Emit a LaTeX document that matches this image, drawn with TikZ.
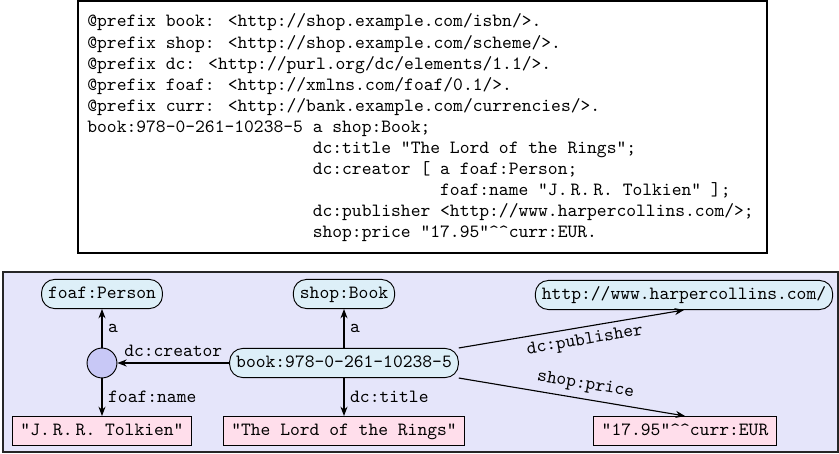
\documentclass[tikz,border=0pt]{standalone}
\usetikzlibrary{arrows.meta}

\definecolor{panelbg}{RGB}{229,229,250}
\definecolor{resfill}{RGB}{221,239,248}
\definecolor{litfill}{RGB}{255,222,235}
\definecolor{blankfill}{RGB}{200,200,246}

\newcommand{\crt}{\textasciicircum}

\tikzset{
  code/.style={anchor=base west, inner sep=0pt, font=\ttfamily},
  res/.style={draw, fill=resfill, rounded corners=7pt, font=\ttfamily,
    text height=7pt, text depth=2pt, inner xsep=3.5pt, inner ysep=3.3pt,
    line width=0.5pt},
  lit/.style={draw, fill=litfill, font=\ttfamily,
    text height=7pt, text depth=2pt, inner xsep=4.2pt, inner ysep=3.3pt,
    line width=0.5pt},
  blank/.style={draw, circle, fill=blankfill, minimum size=16pt,
    inner sep=0pt, line width=0.5pt},
  edge/.style={-{Stealth[length=5pt,width=3.8pt]}, line width=0.6pt},
  lbl/.style={font=\ttfamily, inner sep=3pt},
}

\begin{document}
\begin{tikzpicture}[x=0.5357pt, y=-0.5357pt]
\useasboundingbox (0,0) rectangle (839,454);

% Turtle source listing
\draw[line width=1.2pt] (78,1.2) rectangle (767,253);
\node[code] (t1)  at (87,27)    {@prefix book: <http://shop.example.com/isbn/>.};
\node[code] (t2)  at (87,48.1)  {@prefix shop: <http://shop.example.com/scheme/>.};
\node[code] (t3)  at (87,69.2)  {@prefix dc: <http://purl.org/dc/elements/1.1/>.};
\node[code] (t4)  at (87,90.3)  {@prefix foaf: <http://xmlns.com/foaf/0.1/>.};
\node[code] (t5)  at (87,111.4) {@prefix curr: <http://bank.example.com/currencies/>.};
\node[code] (t6)  at (87,132.5) {book:978-0-261-10238-5 a shop:Book;};
\node[code] (t7)  at (312.4,153.6) {dc:title "The Lord of the Rings";};
\node[code] (t8)  at (312.4,174.7) {dc:creator [ a foaf:Person;};
\node[code] (t9)  at (439.8,195.8) {foaf:name "J.\,R.\,R. Tolkien" ];};
\node[code] (t10) at (312.4,216.9) {dc:publisher <http://www.harpercollins.com/>;};
\node[code] (t11) at (312.4,238)   {shop:price "17.95"\crt\crt curr:EUR.};

% RDF graph panel
\draw[fill=panelbg, draw=black!85, line width=0.8pt] (3,272) rectangle (838,452);

\node[res]   (person)  at (102,294) {foaf:Person};
\node[blank] (bn)      at (102,363) {};
\node[lit]   (tolkien) at (102,431) {"J.\,R.\,R. Tolkien"};
\node[res]   (cls)     at (344,294) {shop:Book};
\node[res]   (book)    at (344,363) {book:978-0-261-10238-5};
\node[lit]   (title)   at (344,431) {"The Lord of the Rings"};
\node[res]   (pub)     at (684,295) {http://www.harpercollins.com/};
\node[lit]   (price)   at (685,431) {"17.95"\crt\crt curr:EUR};

\draw[edge] (bn) -- node[lbl,right] {a} (person);
\draw[edge] (bn) -- node[lbl,right] {foaf:name} (tolkien);
\draw[edge] (book) -- node[lbl,above] {dc:creator} (bn);
\draw[edge] (book) -- node[lbl,right] {a} (cls);
\draw[edge] (book) -- node[lbl,right] {dc:title} (title);
\draw[edge] (book.north east) -- node[lbl,below,sloped,pos=0.55] {dc:publisher} (pub.south);
\draw[edge] (book.south east) -- node[lbl,above,sloped,pos=0.55] {shop:price} (price.north);
\end{tikzpicture}
\end{document}
